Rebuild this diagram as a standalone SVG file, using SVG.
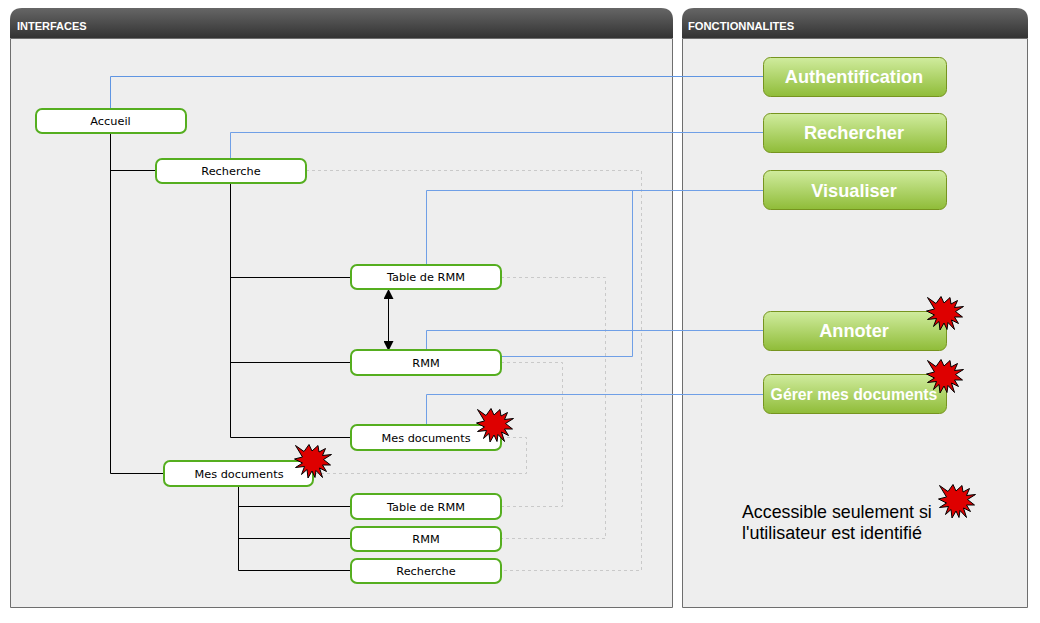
<svg xmlns="http://www.w3.org/2000/svg" width="1040" height="623" viewBox="0 0 1040 623">
<style>
.sans{font-family:"Liberation Sans",Arial,sans-serif}
.panel{fill:#eeeeee;stroke:#6e6e6e;stroke-width:1}
.ptitle{font:bold 11px "Liberation Sans",Arial,sans-serif;fill:#fff}
.n rect{fill:#fff;stroke:#55ae1f;stroke-width:2}
.n text{font:11.300px "DejaVu Sans","Liberation Sans",sans-serif;fill:#000;text-anchor:middle}
.f rect{fill:url(#gbtn);stroke:#76941f;stroke-width:1}
.f text{font:bold 18.200px "Liberation Sans",Arial,sans-serif;fill:#fff;text-anchor:middle}
.blk{fill:none;stroke:#000;stroke-width:1}
.blu{fill:none;stroke:#6f9fe6;stroke-width:1}
.dsh{fill:none;stroke:#c9c9c9;stroke-width:1;stroke-dasharray:3 3}
.star{fill:#de0000;stroke:#000;stroke-width:1;stroke-linejoin:miter}
</style>
<defs>
<linearGradient id="ghead" x1="0" y1="0" x2="0" y2="1"><stop offset="0" stop-color="#666666"/><stop offset="1" stop-color="#333333"/></linearGradient>
<linearGradient id="gbtn" x1="0" y1="0" x2="0" y2="1"><stop offset="0" stop-color="#d0ec9e"/><stop offset="1" stop-color="#8fbc38"/></linearGradient>
<polygon id="star" points="-17.500,-15.500 -9,-9.500 -4,-16.500 -1,-10 5,-15.500 6,-9 12.500,-12.500 9.500,-5.500 18.500,-6.500 10.500,-1.500 17.500,4 9.500,4 13.500,10.500 6.500,7 9.500,16.500 3,9.500 2,16.500 -1,10 -5,17 -6,8.500 -11.500,13.500 -8.500,5.500 -17.500,6.500 -10.500,2 -18.500,-2 -10.500,-4" class="star"/>
<marker id="arr" viewBox="0 0 10 10" refX="10" refY="5" markerWidth="10" markerHeight="10" markerUnits="userSpaceOnUse" orient="auto-start-reverse"><path d="M0,0L10,5L0,10z" fill="#000"/></marker>
</defs>
<rect width="1040" height="623" fill="#fff"/>
<g id="panel-interfaces">
<path class="panel" d="M10.500,38.500H672.500V607.500H10.500Z"/>
<path d="M10,38V20Q10,8 22,8H661Q673,8 673,20V38Z" fill="url(#ghead)"/>
<text class="ptitle" x="17" y="30">INTERFACES</text>
</g>
<g id="panel-fonctionnalites">
<path class="panel" d="M682.500,38.500H1027.500V607.500H682.500Z"/>
<path d="M682,38V20Q682,8 694,8H1016Q1028,8 1028,20V38Z" fill="url(#ghead)"/>
<text class="ptitle" x="688" y="30" style="font-size:11.200px">FONCTIONNALITES</text>
</g>
<g id="connectors">
<path class="dsh" d="M306,170.500H641.500V570.500H501"/>
<path class="dsh" d="M501,277.500H605.500V538.500H501"/>
<path class="dsh" d="M501,362.500H562.500V506.500H501"/>
<path class="dsh" d="M501,437.500H526.500V473.500H314"/>
<path class="blu" style="stroke:#5f95e2" d="M110.500,108V76.500H764"/>
<path class="blu" d="M230.500,159V132.500H764"/>
<path class="blu" d="M426.500,265V190.500H764"/>
<path class="blu" d="M501,356.500H632.500V190.500"/>
<path class="blu" d="M426.500,350V330.500H764"/>
<path class="blu" d="M426.500,425V394.500H764"/>
<path class="blk" d="M110.500,133V473.500H164M110.500,170.500H156"/>
<path class="blk" d="M230.500,183V437.500H351M230.500,277.500H351M230.500,362.500H351"/>
<path class="blk" d="M238.500,486V570.500H351M238.500,506.500H351M238.500,538.500H351"/>
<line class="blk" x1="388.500" y1="289" x2="388.500" y2="351" marker-start="url(#arr)" marker-end="url(#arr)"/>
</g>
<g id="n-accueil" class="n"><rect x="36" y="109" width="150" height="24" rx="6"/><text x="110.500" y="124.500">Accueil</text></g>
<g id="n-recherche" class="n"><rect x="156" y="159" width="150" height="24" rx="6"/><text x="231" y="174.500">Recherche</text></g>
<g id="n-table1" class="n"><rect x="351" y="265" width="150" height="24" rx="6"/><text x="426" y="280.500">Table de RMM</text></g>
<g id="n-rmm1" class="n"><rect x="351" y="350" width="150" height="25" rx="6"/><text x="426" y="366.500">RMM</text></g>
<g id="n-mesdocs1" class="n"><rect x="351" y="425" width="150" height="25" rx="6"/><text x="426" y="441.500">Mes documents</text><use href="#star" x="495" y="425"/></g>
<g id="n-mesdocs2" class="n"><rect x="164" y="461" width="149" height="25" rx="6"/><text x="239" y="477.500">Mes documents</text><use href="#star" x="313" y="461"/></g>
<g id="n-table2" class="n"><rect x="351" y="494" width="150" height="25" rx="6"/><text x="426" y="510.500">Table de RMM</text></g>
<g id="n-rmm2" class="n"><rect x="351" y="527" width="150" height="24" rx="6"/><text x="426" y="542.500">RMM</text></g>
<g id="n-recherche2" class="n"><rect x="351" y="559" width="150" height="24" rx="6"/><text x="426" y="574.500">Recherche</text></g>
<g id="f-auth" class="f"><rect x="763.500" y="57.500" width="183" height="39" rx="7"/><text x="854" y="83">Authentification</text></g>
<g id="f-rech" class="f"><rect x="763.500" y="113.500" width="183" height="39" rx="7"/><text x="854" y="139">Rechercher</text></g>
<g id="f-visu" class="f"><rect x="763.500" y="170.500" width="183" height="39" rx="7"/><text x="854" y="197">Visualiser</text></g>
<g id="f-anno" class="f"><rect x="763.500" y="311.500" width="183" height="39" rx="7"/><text x="854" y="337">Annoter</text><use href="#star" x="945" y="313"/></g>
<g id="f-gerer" class="f"><rect x="763.500" y="374.500" width="183" height="39" rx="7"/><text x="854" y="400" style="font-size:15.800px">Gérer mes documents</text><use href="#star" x="945" y="376"/></g>
<g id="legend">
<text class="sans" x="742" y="518" font-size="17.800" fill="#000">Accessible seulement si</text>
<text class="sans" x="742" y="539" font-size="17.950" fill="#000">l'utilisateur est identifié</text>
<use href="#star" x="957" y="501"/>
</g>
</svg>
